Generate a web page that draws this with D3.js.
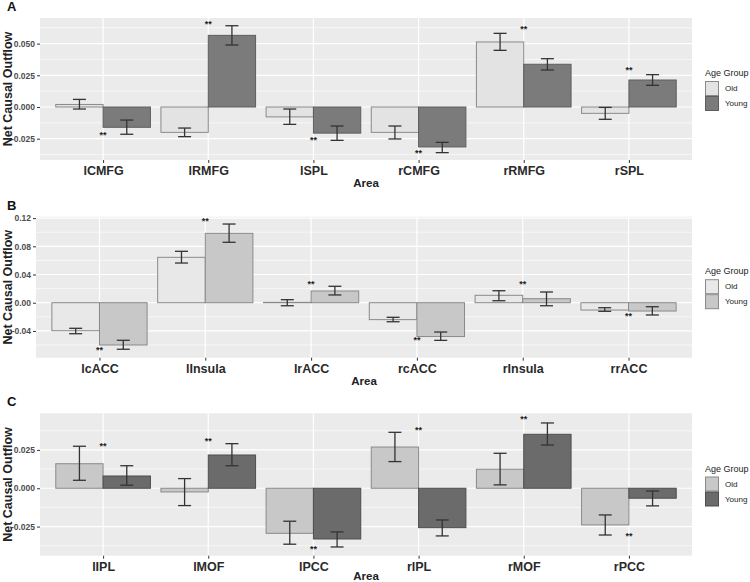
<!DOCTYPE html>
<html><head><meta charset="utf-8">
<script src="https://cdn.jsdelivr.net/npm/d3@7"></script>
<style>body{margin:0;background:#fff}svg{display:block;font-family:"Liberation Sans",Arial,sans-serif}</style>
</head><body><svg id="c" width="750" height="582"></svg>
<script>
// ---------- DATA ----------
const areasA = ["lCMFG","lRMFG","lSPL","rCMFG","rRMFG","rSPL"];
const oldA = [0.002,-0.020,-0.0078,-0.020,0.0513,-0.005];
const oldErrA = [[-0.0016,0.006],[-0.0234,-0.0166],[-0.0137,-0.0016],[-0.0252,-0.015],[0.0447,0.0581],[-0.0097,-0.0003]];
const youngA = [-0.016,0.0565,-0.0206,-0.0315,0.0337,0.0213];
const youngErrA = [[-0.0215,-0.0103],[0.0489,0.0641],[-0.0263,-0.015],[-0.036,-0.0279],[0.0292,0.0381],[0.0171,0.0255]];
const starsA = [-0.0213,0.0662,-0.0255,-0.0355,0.0623,0.0300];
const ticksA = [-0.025,0,0.025,0.05];

const areasB = ["lcACC","lInsula","lrACC","rcACC","rInsula","rrACC"];
const oldB = [-0.0397,0.0644,0.0005,-0.024,0.0105,-0.0104];
const oldErrB = [[-0.044,-0.0363],[0.0563,0.0729],[-0.0043,0.0043],[-0.027,-0.0207],[0.0028,0.017],[-0.0122,-0.0071]];
const youngB = [-0.060,0.0984,0.0166,-0.048,0.0057,-0.0118];
const youngErrB = [[-0.066,-0.0533],[0.0857,0.1116],[0.011,0.0233],[-0.0534,-0.0416],[-0.0043,0.0152],[-0.0174,-0.0057]];
const starsB = [-0.066,0.118,0.028,-0.0515,0.028,-0.017];
const ticksB = [-0.04,0,0.04,0.08,0.12];

const areasC = ["lIPL","lMOF","lPCC","rIPL","rMOF","rPCC"];
const oldC = [0.016,-0.0024,-0.0294,0.0269,0.0124,-0.0239];
const oldErrC = [[0.0052,0.0274],[-0.0113,0.0063],[-0.0365,-0.0215],[0.0174,0.0365],[0.0022,0.0228],[-0.0305,-0.0174]];
const youngC = [0.008,0.0217,-0.0331,-0.0257,0.0352,-0.0065];
const youngErrC = [[0.002,0.0147],[0.0147,0.0291],[-0.0383,-0.0285],[-0.0311,-0.0207],[0.0282,0.0426],[-0.0115,-0.0018]];
const starsC = [0.0282,0.0315,-0.0387,0.0385,0.046,-0.0305];
const ticksC = [-0.025,0,0.025];

const groups = ["Old","Young"];

// ---------- LAYOUT ----------
const panels = [
  {label:"A", areas:areasA, old:oldA, oldErr:oldErrA, young:youngA, youngErr:youngErrA, stars:starsA, ticks:ticksA,
   fmt:".3f", top:18, bottom:160, left:40, right:692, dom:[-0.0418,0.0702],
   fills:["#e3e3e3","#7b7b7b"], strokes:["#8a8a8a","#5e5e5e"]},
  {label:"B", areas:areasB, old:oldB, oldErr:oldErrB, young:youngB, youngErr:youngErrB, stars:starsB, ticks:ticksB,
   fmt:".2f", top:216.7, bottom:357.7, left:36, right:692, dom:[-0.078,0.122],
   fills:["#e8e8e8","#c8c8c8"], strokes:["#8a8a8a","#8a8a8a"]},
  {label:"C", areas:areasC, old:oldC, oldErr:oldErrC, young:youngC, youngErr:youngErrC, stars:starsC, ticks:ticksC,
   fmt:".3f", top:413.3, bottom:555.7, left:40, right:692, dom:[-0.044,0.0489],
   fills:["#c8c8c8","#6b6b6b"], strokes:["#8a8a8a","#4e4e4e"]}
];

const svg = d3.select("#c");

panels.forEach(p => {
  const g = svg.append("g");
  const x = d3.scalePoint().domain(p.areas).range([p.left, p.right]).padding(0.6);
  const step = x.step();
  const y = d3.scaleLinear().domain(p.dom).range([p.bottom, p.top]);
  const sub = d3.scaleBand().domain(groups).range([-step*0.45, step*0.45]).padding(0);
  const fmt = d => d3.format(p.fmt)(d).replace("\u2212", "-");

  g.append("rect").attr("x", p.left).attr("y", p.top).attr("width", p.right - p.left)
    .attr("height", p.bottom - p.top).attr("fill", "#ebebeb");

  const tStep = p.ticks[1] - p.ticks[0];
  const minor = [];
  for (let v = p.ticks[0] - tStep/2; v <= p.dom[1]; v += tStep) if (v >= p.dom[0]) minor.push(v);
  g.selectAll(".mn").data(minor).join("line")
    .attr("x1", p.left).attr("x2", p.right).attr("y1", d => y(d)).attr("y2", d => y(d))
    .attr("stroke", "#fff").attr("stroke-width", 0.6);
  g.selectAll(".mj").data(p.ticks).join("line")
    .attr("x1", p.left).attr("x2", p.right).attr("y1", d => y(d)).attr("y2", d => y(d))
    .attr("stroke", "#fff").attr("stroke-width", 1.2);
  g.selectAll(".vx").data(p.areas).join("line")
    .attr("x1", d => x(d)).attr("x2", d => x(d)).attr("y1", p.top).attr("y2", p.bottom)
    .attr("stroke", "#fff").attr("stroke-width", 1.2);

  const rows = [];
  p.areas.forEach((a, i) => {
    rows.push({a, gi:0, v:p.old[i], e:p.oldErr[i]});
    rows.push({a, gi:1, v:p.young[i], e:p.youngErr[i]});
  });
  g.selectAll(".bar").data(rows).join("rect")
    .attr("x", d => x(d.a) + sub(groups[d.gi]))
    .attr("width", sub.bandwidth())
    .attr("y", d => Math.min(y(d.v), y(0)))
    .attr("height", d => Math.abs(y(d.v) - y(0)))
    .attr("fill", d => p.fills[d.gi]).attr("stroke", d => p.strokes[d.gi]).attr("stroke-width", 1);

  const cw = 6.5;
  rows.forEach(d => {
    const cx = x(d.a) + sub(groups[d.gi]) + sub.bandwidth()/2;
    const eg = g.append("g").attr("stroke", "#333").attr("stroke-width", 1.3).attr("fill", "none");
    eg.append("line").attr("x1", cx).attr("x2", cx).attr("y1", y(d.e[0])).attr("y2", y(d.e[1]));
    eg.append("line").attr("x1", cx - cw).attr("x2", cx + cw).attr("y1", y(d.e[0])).attr("y2", y(d.e[0]));
    eg.append("line").attr("x1", cx - cw).attr("x2", cx + cw).attr("y1", y(d.e[1])).attr("y2", y(d.e[1]));
  });

  g.selectAll(".st").data(p.stars).join("text")
    .attr("x", (d, i) => x(p.areas[i])).attr("y", d => y(d) + 4)
    .attr("text-anchor", "middle").attr("font-size", 9).attr("font-weight", "bold").attr("fill", "#222")
    .text("**");

  const ya = d3.axisLeft(y).tickValues(p.ticks).tickFormat(fmt).tickSize(3).tickPadding(2);
  const yg = g.append("g").attr("transform", `translate(${p.left},0)`).call(ya);
  yg.select(".domain").remove();
  yg.selectAll(".tick line").attr("stroke", "#333");
  yg.selectAll(".tick text").attr("font-size", 8.5).attr("font-weight", "bold").attr("fill", "#4d4d4d")
    .attr("font-family", "Liberation Sans, Arial, sans-serif");

  const xa = d3.axisBottom(x).tickSize(3).tickPadding(3);
  const xg = g.append("g").attr("transform", `translate(0,${p.bottom})`).call(xa);
  xg.select(".domain").remove();
  xg.selectAll(".tick line").attr("stroke", "#333");
  xg.selectAll(".tick text").attr("font-size", 12.5).attr("font-weight", "bold").attr("fill", "#2a2a2a")
    .attr("font-family", "Liberation Sans, Arial, sans-serif");

  g.append("text").attr("x", (p.left + p.right)/2).attr("y", Math.min(p.bottom + 27, 580))
    .attr("text-anchor", "middle").attr("font-size", 11.5).attr("font-weight", "bold").attr("fill", "#222").text("Area");
  g.append("text").attr("transform", `translate(11.5,${(p.top + p.bottom)/2}) rotate(-90)`)
    .attr("text-anchor", "middle").attr("font-size", 12.5).attr("font-weight", "bold").attr("fill", "#222").text("Net Causal Outflow");
  g.append("text").attr("x", 7).attr("y", p.top - 7).attr("font-size", 13).attr("font-weight", "bold")
    .attr("fill", "#111").text(p.label);

  const ly = (p.top + p.bottom)/2 - 8;
  const lg = g.append("g").attr("transform", `translate(705,${ly})`);
  lg.append("text").attr("x", 0).attr("y", -5).attr("font-size", 9).attr("fill", "#222").text("Age Group");
  groups.forEach((gname, i) => {
    lg.append("rect").attr("x", 0.5).attr("y", i*15 + 0.5).attr("width", 13).attr("height", 14)
      .attr("fill", p.fills[i]).attr("stroke", p.strokes[i]).attr("stroke-width", 1);
    lg.append("text").attr("x", 20).attr("y", i*15 + 10).attr("font-size", 8).attr("fill", "#222").text(gname);
  });
});
</script></body></html>
